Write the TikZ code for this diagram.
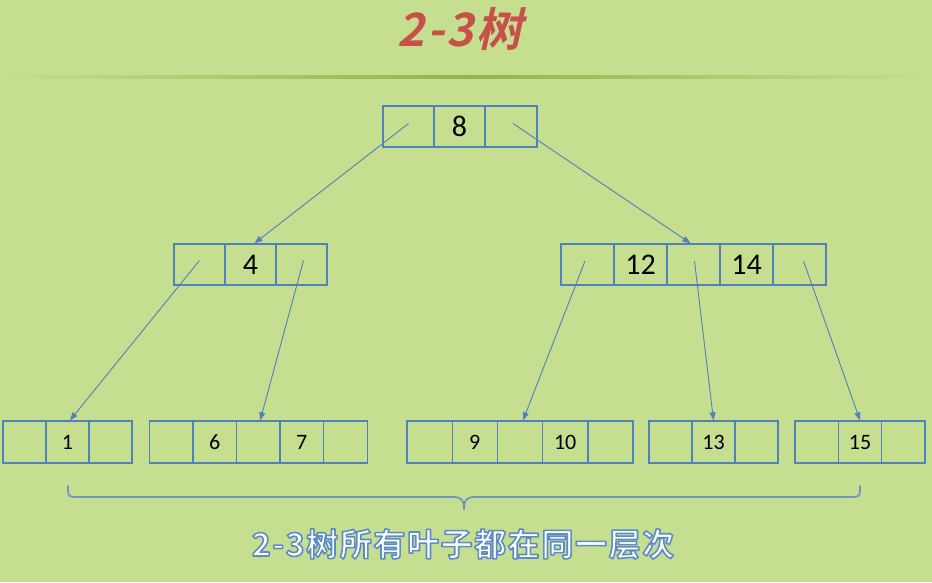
\documentclass[tikz,border=0pt]{standalone}
\usepackage{fontspec}
\usetikzlibrary{arrows.meta}
\newfontfamily\numfont{Carlito}
\newfontfamily\capfont[LetterSpace=5,BoldFont=* Bold]{Noto Sans CJK SC}
\newfontfamily\titlefont[FakeSlant=0.22,LetterSpace=6,BoldFont=* Bold]{Noto Sans CJK SC}
\definecolor{bg}{HTML}{C6DE8F}
\definecolor{boxblue}{HTML}{4F81BD}
\definecolor{linkblue}{HTML}{4F81BD}
\definecolor{bracecol}{HTML}{7097C0}
\definecolor{titlered}{HTML}{C8504B}
\definecolor{rulegreen}{HTML}{93B548}
\newcommand\outlinedtext[1]{\special{pdf:literal direct 2 Tr 1.6 w 1 j 0.36 0.55 0.78 RG}#1\special{pdf:literal direct 0 Tr}}
\begin{document}
\begin{tikzpicture}[x=1pt,y=-1pt,
  cell/.style={draw=boxblue,line width=1.4pt,minimum height=41pt,inner sep=0pt,
    font=\numfont\fontsize{30}{30}\selectfont},
  leafcell/.style={cell,minimum height=42pt,font=\numfont\fontsize{22}{22}\selectfont},
  conn/.style={draw=linkblue,line width=0.9pt,-{Triangle[length=8pt,width=6pt]}},
  bracestyle/.style={draw=bracecol,line width=1.8pt,line cap=round},
]
\useasboundingbox (0,0) rectangle (932,582);
\fill[bg] (0,0) rectangle (932,582);
% title and rule
\shade[left color=bg,right color=bg,middle color=rulegreen] (0,75) rectangle (932,78);
\node[text=titlered,font=\titlefont\bfseries\fontsize{46}{46}\selectfont] (title) at (460,29) {2-3树};
% root
\node[cell,minimum width=51pt] (r1) at (408.5,126.5) {};
\node[cell,minimum width=51pt] (r2) at (459.5,126.5) {8};
\node[cell,minimum width=52pt] (r3) at (511,126.5) {};
% middle left
\node[cell,minimum width=51pt] (a1) at (199.5,264.5) {};
\node[cell,minimum width=51pt] (a2) at (250.5,264.5) {4};
\node[cell,minimum width=51pt] (a3) at (301.5,264.5) {};
% middle right
\node[cell,minimum width=53pt] (b1) at (587.5,264.5) {};
\node[cell,minimum width=53pt] (b2) at (640.5,264.5) {12};
\node[cell,minimum width=53pt] (b3) at (693.5,264.5) {};
\node[cell,minimum width=53pt] (b4) at (746.5,264.5) {14};
\node[cell,minimum width=53pt] (b5) at (799.5,264.5) {};
% leaves
\node[leafcell,minimum width=43pt] (c1) at (24.5,442) {};
\node[leafcell,minimum width=43pt] (c2) at (67.5,442) {1};
\node[leafcell,minimum width=43pt] (c3) at (110.5,442) {};
\node[leafcell,minimum width=43.6pt] (d1) at (171,442) {};
\node[leafcell,minimum width=43.6pt] (d2) at (214.6,442) {6};
\node[leafcell,minimum width=43.6pt] (d3) at (258.2,442) {};
\node[leafcell,minimum width=43.6pt] (d4) at (301.8,442) {7};
\node[leafcell,minimum width=43.6pt] (d5) at (345.4,442) {};
\node[leafcell,minimum width=45.2pt] (e1) at (429.6,442) {};
\node[leafcell,minimum width=45.2pt] (e2) at (474.8,442) {9};
\node[leafcell,minimum width=45.2pt] (e3) at (520,442) {};
\node[leafcell,minimum width=45.2pt] (e4) at (565.2,442) {10};
\node[leafcell,minimum width=45.2pt] (e5) at (610.4,442) {};
\node[leafcell,minimum width=43pt] (f1) at (670.5,442) {};
\node[leafcell,minimum width=43pt] (f2) at (713.5,442) {13};
\node[leafcell,minimum width=43pt] (f3) at (756.5,442) {};
\node[leafcell,minimum width=43.3pt] (g1) at (816.6,442) {};
\node[leafcell,minimum width=43.3pt] (g2) at (860,442) {15};
\node[leafcell,minimum width=43.3pt] (g3) at (903.3,442) {};
% connectors
\draw[conn] ([yshift=3pt]r1.center) -- ([xshift=4pt]a2.north);
\draw[conn] ([xshift=2pt,yshift=3pt]r3.center) -- ([xshift=-3pt]b3.north);
\draw[conn] ([yshift=4pt]a1.center) -- ([xshift=2.5pt]c2.north);
\draw[conn] ([xshift=2pt,yshift=4pt]a3.center) -- ([xshift=2pt]d3.north);
\draw[conn] ([xshift=-2.5pt,yshift=3.5pt]b1.center) -- ([xshift=3pt]e3.north);
\draw[conn] ([xshift=1pt,yshift=3.5pt]b3.center) -- (f2.north);
\draw[conn] ([xshift=4pt,yshift=3.5pt]b5.center) -- (g2.north);
% brace
\coordinate (bl) at (68,486);
\coordinate (bm) at (464,510);
\coordinate (br) at (860,486);
\draw[bracestyle] (bl) .. controls (68,497) and (68,497) .. (78,497) -- (452,497)
  .. controls (461,497) and (464,499) .. (bm)
  .. controls (464,499) and (467,497) .. (476,497) -- (850,497)
  .. controls (860,497) and (860,497) .. (br);
% caption
\node[text=white,font=\capfont\bfseries\fontsize{32}{32}\selectfont,inner sep=0pt] (caption) at (463,544) {\outlinedtext{2-3树所有叶子都在同一层次}};
\end{tikzpicture}
\end{document}
